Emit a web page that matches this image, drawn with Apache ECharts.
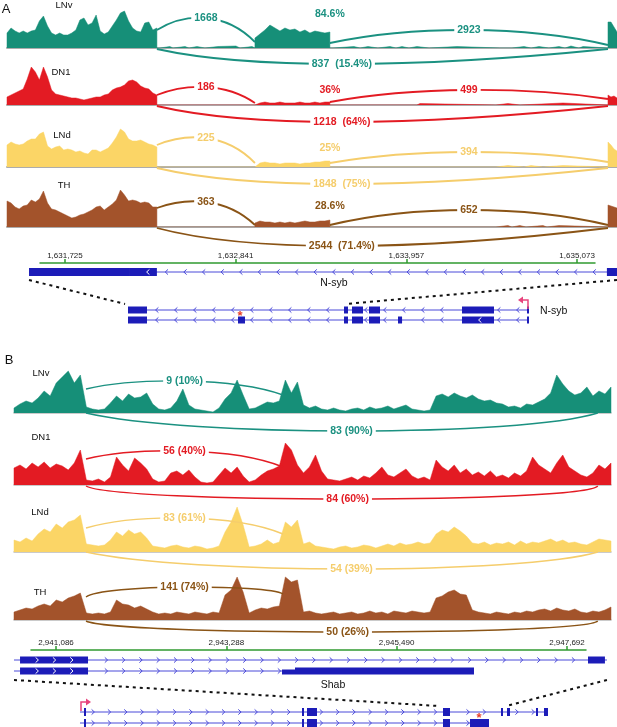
<!DOCTYPE html>
<html>
<head>
<meta charset="utf-8">
<script src="https://cdn.jsdelivr.net/npm/echarts@6/dist/echarts.min.js"></script>
<style>
  html, body { margin: 0; padding: 0; background: #fff; }
  #chart { width: 617px; height: 727px; }
</style>
</head>
<body>
<div id="chart"></div>
<script>
// cell types, same order in both panels
const cells = ['LNv', 'DN1', 'LNd', 'TH'];

// ---------- panel A: N-syb ----------
const viewA = [1631346, 1635334];
const rulerA = [1631562, 1635190];
const ticksA = [1631725, 1632841, 1633957, 1635073];
// covered blocks: last exon, alternative exon, upstream exon
const exonBlocksA = [[1631346, 1632326], [1632967, 1633457], [1635275, 1635334]];
const covA_LNv = [
  [15, 20, 17, 15, 17, 15, 17, 18, 27, 32, 22, 15, 13, 15, 13, 13, 15, 18, 28, 30, 23, 25, 33, 17, 14, 16, 22, 28, 35, 37, 27, 20, 17, 16, 25, 26, 18, 20],
  [10, 14, 18, 23, 20, 17, 20, 18, 19, 16, 18, 15, 17, 16, 15, 16],
  [26, 26, 21, 16]
];
const covA_DN1 = [
  [8, 10, 12, 14, 16, 26, 38, 33, 25, 38, 28, 15, 11, 10, 9, 8, 7, 7, 6, 5, 6, 7, 8, 8, 10, 11, 15, 17, 18, 20, 24, 25, 23, 19, 17, 16, 12, 10],
  [2, 2, 3, 2, 2, 3, 2, 2, 2, 3, 2, 2, 3, 2, 3, 3],
  [10, 8, 9, 7]
];
const covA_LNd = [
  [22, 25, 23, 22, 23, 26, 28, 28, 33, 35, 21, 18, 20, 21, 17, 18, 17, 15, 16, 14, 13, 17, 17, 15, 17, 19, 24, 30, 38, 35, 28, 26, 26, 27, 25, 23, 22, 20],
  [2, 4, 5, 4, 4, 3, 4, 4, 4, 3, 4, 4, 5, 5, 6, 6],
  [25, 22, 18, 16]
];
const covA_TH = [
  [26, 24, 20, 18, 21, 22, 27, 25, 28, 36, 24, 18, 17, 15, 13, 11, 9, 10, 12, 13, 15, 17, 20, 21, 17, 20, 23, 27, 37, 32, 26, 27, 26, 24, 25, 24, 20, 20],
  [4, 6, 5, 5, 4, 5, 4, 5, 4, 5, 6, 5, 5, 6, 6, 7],
  [22, 21, 20, 19]
];
// low intronic reads [start, end, depth]
const lowA_LNv = [[1632346, 1632411, 1.5], [1632431, 1632510, 1.5], [1632536, 1632588, 1.5], [1632640, 1632725, 1.5], [1632738, 1632843, 2], [1632869, 1632948, 1.5],
  [1633477, 1633614, 1.5], [1633654, 1633706, 1.5], [1633771, 1633850, 1.5], [1633889, 1633928, 1.5], [1633974, 1634026, 1.5], [1634105, 1634288, 1.5],
  [1634569, 1634582, 1.5], [1634647, 1634726, 1.5], [1634772, 1634824, 1.5], [1634889, 1634955, 1.5], [1634994, 1635033, 2], [1635085, 1635112, 1.5]];
const lowA_DN1 = [[1634026, 1634046, 1.5], [1634543, 1634621, 1.5], [1634699, 1634981, 2]];
const lowA_LNd = [[1634543, 1634621, 1.5], [1634726, 1634772, 1.5], [1634850, 1634981, 1.5]];
const lowA_TH = [[1634543, 1634621, 1.5], [1634647, 1634699, 1.5], [1634739, 1634850, 1.5], [1634876, 1634955, 1.5]];
const junctionsA = [[1632326, 1632967], [1633457, 1635275], [1632326, 1635275]];
const countsA = [[1668, 2923, 837], [186, 499, 1218], [225, 394, 1848], [363, 652, 2544]];
const inclusionA = ['84.6%', '36%', '25%', '28.6%'];
const skippingA = ['15.4%', '64%', '75%', '71.4%'];
const psiPosA = 1633457;

// ---------- panel B: Shab ----------
const viewB = [2940362, 2948339];
const covViewB = [2940543, 2948261];
const rulerB = [2940763, 2947938];
const ticksB = [2941086, 2943288, 2945490, 2947692];
const exonBlocksB = [[2940543, 2948261]];
const covB_LNv = [
  5, 9, 12, 10, 15, 22, 17, 30, 36, 42, 30, 38, 6, 4, 3, 4, 10, 17, 12, 19,
  15, 16, 20, 9, 4, 3, 5, 12, 24, 8, 4, 3, 2, 1, 5, 14, 20, 33, 18, 4,
  5, 8, 11, 10, 12, 33, 20, 31, 8, 5, 7, 4, 3, 5, 3, 2, 4, 5, 3, 6,
  4, 5, 7, 4, 6, 8, 4, 3, 2, 3, 17, 19, 16, 20, 17, 15, 18, 14, 12, 13,
  10, 9, 6, 7, 5, 9, 8, 11, 14, 20, 38, 29, 22, 18, 20, 26, 17, 22, 19, 26];
const covB_DN1 = [
  17, 20, 16, 22, 18, 23, 17, 21, 19, 15, 22, 35, 5, 4, 6, 3, 8, 28, 20, 14,
  27, 22, 16, 6, 3, 4, 12, 14, 10, 15, 8, 3, 2, 3, 10, 17, 12, 18, 9, 3,
  5, 10, 14, 16, 19, 42, 35, 20, 12, 18, 30, 14, 6, 5, 4, 6, 8, 5, 9, 7,
  12, 18, 10, 8, 12, 16, 9, 6, 8, 5, 25, 18, 14, 20, 12, 16, 10, 13, 9, 14,
  8, 10, 7, 12, 9, 14, 28, 20, 16, 12, 22, 30, 18, 14, 10, 8, 12, 20, 16, 22];
const covB_LNd = [
  12, 10, 14, 11, 18, 23, 20, 28, 24, 30, 32, 37, 8, 7, 6, 7, 12, 20, 16, 22,
  18, 20, 14, 6, 5, 4, 6, 7, 5, 4, 6, 5, 3, 4, 6, 20, 30, 45, 27, 5,
  6, 8, 12, 8, 10, 30, 25, 32, 8, 10, 6, 5, 4, 3, 5, 6, 4, 5, 7, 6,
  4, 6, 8, 6, 9, 7, 8, 10, 8, 9, 18, 22, 20, 25, 21, 16, 9, 8, 10, 7,
  9, 8, 10, 7, 11, 8, 10, 9, 11, 13, 10, 12, 9, 10, 8, 7, 10, 13, 12, 11];
const covB_TH = [
  8, 10, 12, 11, 14, 16, 14, 20, 18, 22, 24, 27, 7, 6, 7, 6, 8, 20, 16, 15,
  12, 14, 11, 8, 6, 7, 6, 8, 7, 6, 8, 7, 6, 8, 7, 25, 30, 43, 28, 7,
  10, 12, 11, 13, 14, 43, 38, 40, 8, 9, 7, 6, 7, 8, 6, 7, 8, 6, 7, 9,
  7, 8, 6, 9, 8, 7, 9, 8, 7, 8, 22, 24, 28, 30, 26, 25, 10, 8, 7, 6,
  8, 7, 6, 8, 7, 9, 8, 10, 11, 9, 12, 10, 9, 11, 8, 7, 9, 8, 10, 13];
const junctionsB = [[2941474, 2944021], [2941474, 2948090]];
const countsB = [[9, 83], [56, 84], [83, 54], [141, 50]];
const pctB = [['10%', '90%'], ['40%', '60%'], ['61%', '39%'], ['74%', '26%']];

// ---------- gene models: rows [start, end, row]; exons [start, end, kind] ----------
// kind 0 solid, 1 solid with strand marks, 2 thin
const nsybDetail = [[1631490, 1635334, 0]];
const nsybDetailExons = [[[1631490, 1632150, 0], [1632150, 1632326, 1], [1635268, 1635334, 0]]];
const nsybOverviewWin = [1629306, 1640085];
const nsybOverview = [[1631542, 1638548, 0], [1631542, 1638548, 1]];
const nsybOverviewExons = [
  [[1631542, 1631874, 0], [1635316, 1635386, 0], [1635455, 1635648, 0], [1635752, 1635945, 0], [1637377, 1637936, 0], [1638513, 1638548, 0]],
  [[1631542, 1631874, 0], [1633464, 1633586, 0], [1635316, 1635386, 0], [1635455, 1635648, 0], [1635752, 1635945, 0], [1636259, 1636330, 0], [1637377, 1637936, 1], [1638513, 1638548, 0]]
];
const shabDetail = [[2940543, 2948209, 0], [2940543, 2946490, 1]];
const shabDetailExons = [
  [[2940621, 2941500, 1], [2947964, 2948183, 0]],
  [[2940621, 2941500, 1], [2944008, 2944176, 2], [2944176, 2946490, 0]]
];
const shabOverviewWin = [2890321, 2960906];
const shabOverview = [[2899473, 2953011, 0], [2899473, 2946263, 1]];
const shabOverviewExons = [
  [[2899931, 2900159, 0], [2924870, 2925099, 0], [2925442, 2926586, 0], [2940999, 2941801, 0], [2947635, 2947864, 0], [2948322, 2948665, 0], [2951639, 2951868, 0], [2952554, 2953011, 0]],
  [[2899931, 2900159, 0], [2924870, 2925099, 0], [2925442, 2926586, 0], [2940999, 2941801, 0], [2944089, 2946263, 0]]
];
const zoomWinA = [1631490, 1635334];
const zoomWinB = [2940543, 2948209];
const tssA = [[1638530, 0]];
const tssB = [[2899587, 0]];
const starA = [[1633499, 0]];
const starB = [[2945119, 0]];

// ---------- styling ----------
const FONT = '"Liberation Sans", Arial, Helvetica, sans-serif';
const cellColors = ['#168f78', '#e31b23', '#fbd566', '#a3532b'];
const arcColors = ['#1b9181', '#e31b23', '#f5cd6c', '#8a5416'];
const exonColor = '#1c1cb8', intronColor = '#4a4ad9', rulerColor = '#319b31';
const baseA = [48, 105, 167, 227], hA = 40;
const baseB = [413, 485, 552, 620], hB = 48;
// arc shape per junction: [lift at start, lift at end, lift at label, ctrl frac left, ctrl frac right]
const arcGeomA = [
  [[18, 6, 30, .3, .3], [5, 3, 18, .3, .3], [-1, -1, -16, .2, .44]],
  [[10, 2, 18, .3, .3], [3, 6, 15, .3, .3], [-1, -1, -17, .2, .44]],
  [[22, 4, 29, .3, .3], [4, 5, 15, .3, .3], [-1, -1, -17, .2, .44]],
  [[19, 2, 25, .3, .3], [2, 2, 17, .3, .3], [-1, -1, -19, .2, .44]]
];
const arcGeomB = [
  [[24, 18, 32, .25, .25], [0, 0, -18, .2, .15]],
  [[26, 18, 34, .25, .25], [-1, -1, -14, .06, .03]],
  [[24, 18, 34, .25, .25], [0, 0, -17, .2, .15]],
  [[23, 26, 33, .08, .08], [-1, -1, -12, .06, .03]]
];
const psiLiftA = [34, 15, 19, 21];
const nameA = [[64, 5], [61, 72], [62, 135], [64, 185]];
const nameB = [[41, 373], [41, 437], [40, 512], [40, 592]];

const covA = [covA_LNv, covA_DN1, covA_LNd, covA_TH];
const lowA = [lowA_LNv, lowA_DN1, lowA_LNd, lowA_TH];
const covB = [covB_LNv, covB_DN1, covB_LNd, covB_TH];

const grids = [], xAxis = [], yAxis = [], series = [];

function addGrid(box, xa, ya) {
  const gi = grids.length;
  grids.push(Object.assign({ containLabel: false, outerBoundsMode: 'none' }, box));
  xAxis.push(Object.assign({ gridIndex: gi, type: 'value', show: false, splitLine: { show: false } }, xa));
  yAxis.push(Object.assign({ gridIndex: gi, type: 'value', show: false, splitLine: { show: false } }, ya));
  return gi;
}

function buildCoverage(blocks, vals, lows) {
  const pts = [];
  blocks.forEach((b, k) => {
    const v = vals[k], n = v.length;
    pts.push([b[0], 0]);
    v.forEach((h, i) => pts.push([b[0] + (b[1] - b[0]) * i / (n - 1), h]));
    pts.push([b[1], 0]);
  });
  (lows || []).forEach(l => pts.push([l[0], 0], [l[0], l[2]], [l[1], l[2]], [l[1], 0]));
  pts.sort((a, b) => a[0] - b[0]);
  return pts;
}

function coverageAxis(view) {
  return {
    min: view[0], max: view[1], show: true,
    axisLine: { show: true, onZero: false, lineStyle: { color: '#acacac', width: 2 } },
    axisTick: { show: false }, axisLabel: { show: false }
  };
}

function arcSeries(gi, junctions, labels, geom, color, size, width) {
  return {
    type: 'custom', xAxisIndex: gi, yAxisIndex: gi, silent: true, z: 5,
    data: junctions.map((j, i) => [j[0], j[1], i]),
    encode: { x: [0, 1], y: 2 },
    renderItem(params, api) {
      const i = api.value(2), g = geom[i];
      const p0 = api.coord([api.value(0), 0]), p3 = api.coord([api.value(1), 0]);
      const b = p0[1];
      const y0 = b - g[0], y3 = b - g[1], ya = b - g[2];
      const d = p3[0] - p0[0];
      const c1 = p0[0] + g[3] * d, c2 = p3[0] - g[4] * d;
      const cy = (8 * ya - y0 - y3) / 6;
      const mx = (p0[0] + 3 * c1 + 3 * c2 + p3[0]) / 8;
      return {
        type: 'group', children: [
          { type: 'bezierCurve', shape: { x1: p0[0], y1: y0, cpx1: c1, cpy1: cy, cpx2: c2, cpy2: cy, x2: p3[0], y2: y3 },
            style: { stroke: color, lineWidth: width, fill: 'none' } },
          { type: 'text', style: { text: labels[i], x: mx, y: ya, fill: color, fontSize: size, fontWeight: 'bold', fontFamily: FONT,
            align: 'center', verticalAlign: 'middle', backgroundColor: '#fff', padding: [1, 3] } }
        ]
      };
    }
  };
}

function geneSeries(gi, rows, exons, dir, spacing, phase, exonH) {
  return {
    type: 'custom', xAxisIndex: gi, yAxisIndex: gi, silent: true, z: 3,
    data: rows, encode: { x: [0, 1], y: 2 },
    renderItem(params, api) {
      const ex = exons[params.dataIndex];
      const row = api.value(2);
      const a = api.coord([api.value(0), row]), e = api.coord([api.value(1), row]);
      const y = a[1];
      const kids = [{ type: 'line', shape: { x1: a[0], y1: y, x2: e[0], y2: y }, style: { stroke: intronColor, lineWidth: 1 } }];
      const boxes = ex.map(x => {
        const p = api.coord([x[0], row])[0], q = api.coord([x[1], row])[0];
        return [p, Math.max(q, p + 2), x[2]];
      });
      boxes.forEach(bx => {
        const h = bx[2] === 2 ? exonH - 2 : exonH;
        kids.push({ type: 'rect', shape: { x: bx[0], y: y - h / 2 + (bx[2] === 2 ? 1 : 0), width: bx[1] - bx[0], height: h }, style: { fill: exonColor } });
      });
      for (let x = a[0] + phase; x < e[0] - 3; x += spacing) {
        const box = boxes.find(bx => x > bx[0] - 2 && x < bx[1] + 2);
        if (box && (box[2] !== 1 || x < box[0] + 3 || x > box[1] - 3)) continue;
        const s = 2.6;
        kids.push({ type: 'polyline',
          shape: { points: [[x - dir * 1.4, y - s], [x + dir * 1.4, y], [x - dir * 1.4, y + s]] },
          style: { stroke: box ? '#fff' : intronColor, lineWidth: 1, fill: 'none' } });
      }
      return { type: 'group', children: kids };
    }
  };
}

function tssSeries(gi, data, dir) {
  return {
    type: 'custom', xAxisIndex: gi, yAxisIndex: gi, silent: true, z: 6, data, encode: { x: 0, y: 1 },
    renderItem(params, api) {
      const p = api.coord([api.value(0), api.value(1)]);
      const x = p[0], y = p[1];
      return { type: 'group', children: [
        { type: 'polyline', shape: { points: [[x, y - 1], [x, y - 10], [x + dir * 6, y - 10]] }, style: { stroke: '#e8447d', lineWidth: 1.5, fill: 'none' } },
        { type: 'polygon', shape: { points: [[x + dir * 10, y - 10], [x + dir * 5, y - 13.5], [x + dir * 5, y - 6.5]] }, style: { fill: '#e8447d' } }
      ] };
    }
  };
}

function starSeries(gi, data) {
  return {
    type: 'custom', xAxisIndex: gi, yAxisIndex: gi, silent: true, z: 7, data, encode: { x: 0, y: 1 },
    renderItem(params, api) {
      const p = api.coord([api.value(0), api.value(1)]);
      return { type: 'text', style: { text: '*', x: p[0], y: p[1] + 6, fill: '#e8402a', fontSize: 13, fontWeight: 'bold',
        fontFamily: FONT, align: 'center', verticalAlign: 'middle' } };
    }
  };
}

function addRuler(box, range, ticks) {
  return addGrid(box, {
    min: range[0], max: range[1], show: true, position: 'top',
    axisLine: { show: true, onZero: false, lineStyle: { color: rulerColor, width: 1.5 } },
    axisTick: { show: true, length: 4, customValues: ticks, lineStyle: { color: rulerColor, width: 1.5 } },
    axisLabel: { show: true, customValues: ticks, margin: 3, fontSize: 8, color: '#222', fontFamily: FONT,
      formatter: v => Number(v).toLocaleString('en-US') }
  }, { min: 0, max: 1 });
}

// ---------- panel A ----------
cells.forEach((c, k) => {
  const gi = addGrid({ left: 7, right: 0, top: baseA[k] - hA, height: hA }, coverageAxis(viewA), { min: 0, max: hA });
  series.push({
    type: 'line', xAxisIndex: gi, yAxisIndex: gi, data: buildCoverage(exonBlocksA, covA[k], lowA[k]),
    symbol: 'none', lineStyle: { width: 0.5, color: cellColors[k] }, areaStyle: { color: cellColors[k], opacity: 1 },
    silent: true, z: 2
  });
  const labels = [String(countsA[k][0]), String(countsA[k][1]), countsA[k][2] + '  (' + skippingA[k] + ')'];
  series.push(arcSeries(gi, junctionsA, labels, arcGeomA[k], arcColors[k], 10.5, 1.8));
  series.push({
    type: 'custom', xAxisIndex: gi, yAxisIndex: gi, silent: true, z: 6, data: [[psiPosA, 0]], encode: { x: 0, y: 1 },
    renderItem(params, api) {
      const q = api.coord([api.value(0), 0]);
      return { type: 'text', style: { text: inclusionA[k], x: q[0], y: q[1] - psiLiftA[k], fill: arcColors[k], fontSize: 10.5,
        fontWeight: 'bold', fontFamily: FONT, align: 'center', verticalAlign: 'middle' } };
    }
  });
});
addRuler({ left: 40, right: 22, top: 263, height: 4 }, rulerA, ticksA);
const geneA = addGrid({ left: 7, right: 0, top: 267, height: 10 }, { min: viewA[0], max: viewA[1] }, { min: -0.5, max: 0.5, inverse: true });
series.push(geneSeries(geneA, nsybDetail, nsybDetailExons, -1, 18.6, 7.4, 8));
const overA = addGrid({ left: 0, right: 0, top: 305, height: 20 }, { min: nsybOverviewWin[0], max: nsybOverviewWin[1] }, { min: -0.5, max: 1.5, inverse: true });
series.push(geneSeries(overA, nsybOverview, nsybOverviewExons, -1, 19, 10, 7));
series.push(tssSeries(overA, tssA, -1));
series.push(starSeries(overA, starA));

// ---------- panel B ----------
cells.forEach((c, k) => {
  const gi = addGrid({ left: 14, right: 6, top: baseB[k] - hB, height: hB }, coverageAxis(covViewB), { min: 0, max: hB });
  xAxis[gi].axisLine.lineStyle = { color: '#b9b9b9', width: 1.5 };
  series.push({
    type: 'line', xAxisIndex: gi, yAxisIndex: gi, data: buildCoverage(exonBlocksB, [covB[k]], []),
    symbol: 'none', lineStyle: { width: 0.5, color: cellColors[k] }, areaStyle: { color: cellColors[k], opacity: 1 },
    silent: true, z: 2
  });
  const labels = countsB[k].map((n, j) => n + ' (' + pctB[k][j] + ')');
  series.push(arcSeries(gi, junctionsB, labels, arcGeomB[k], arcColors[k], 10.5, 1.4));
});
addRuler({ left: 31, right: 31, top: 650, height: 4 }, rulerB, ticksB);
const geneB = addGrid({ left: 0, right: 0, top: 654.5, height: 22 }, { min: viewB[0], max: viewB[1] }, { min: -0.5, max: 1.5, inverse: true });
series.push(geneSeries(geneB, shabDetail, shabDetailExons, 1, 17.3, 5.7, 7));
const overB = addGrid({ left: 0, right: 0, top: 706.5, height: 22 }, { min: shabOverviewWin[0], max: shabOverviewWin[1] }, { min: -0.5, max: 1.5, inverse: true });
series.push(geneSeries(overB, shabOverview, shabOverviewExons, 1, 16.3, 13, 8));
series.push(tssSeries(overB, tssB, 1));
series.push(starSeries(overB, starB));

const chart = echarts.init(document.getElementById('chart'));
chart.setOption({ animation: false, grid: grids, xAxis, yAxis, series });

// texts and zoom guides
const graphics = [];
function addText(t, x, y, size, extra) {
  graphics.push({ type: 'text', x, y, silent: true, z: 10,
    style: Object.assign({ text: t, fill: '#111', fontSize: size, fontFamily: FONT, align: 'center', verticalAlign: 'middle' }, extra || {}) });
}
addText('A', 6, 9, 13);
addText('B', 9, 360, 13);
cells.forEach((c, k) => {
  addText(c, nameA[k][0], nameA[k][1], 9.5);
  addText(c, nameB[k][0], nameB[k][1], 9.5);
});
addText('N-syb', 334, 283, 10.5);
addText('N-syb', 540, 311, 10.5, { align: 'left' });
addText('Shab', 333, 685, 10.5);

function guide(detailGrid, detailRow, overGrid, win, dy1, dy2) {
  win.forEach(v => {
    const p = chart.convertToPixel({ gridIndex: detailGrid }, [v, detailRow]);
    const q = chart.convertToPixel({ gridIndex: overGrid }, [v, 0]);
    graphics.push({ type: 'line', silent: true, z: 9,
      shape: { x1: p[0], y1: p[1] + dy1, x2: q[0], y2: q[1] + dy2 },
      style: { stroke: '#111', lineWidth: 2, lineDash: [3, 4] } });
  });
}
guide(geneA, 0, overA, zoomWinA, 8, -6);
guide(geneB, 1, overB, zoomWinB, 9, -6);

chart.setOption({ graphic: { elements: graphics } });
</script>
</body>
</html>
